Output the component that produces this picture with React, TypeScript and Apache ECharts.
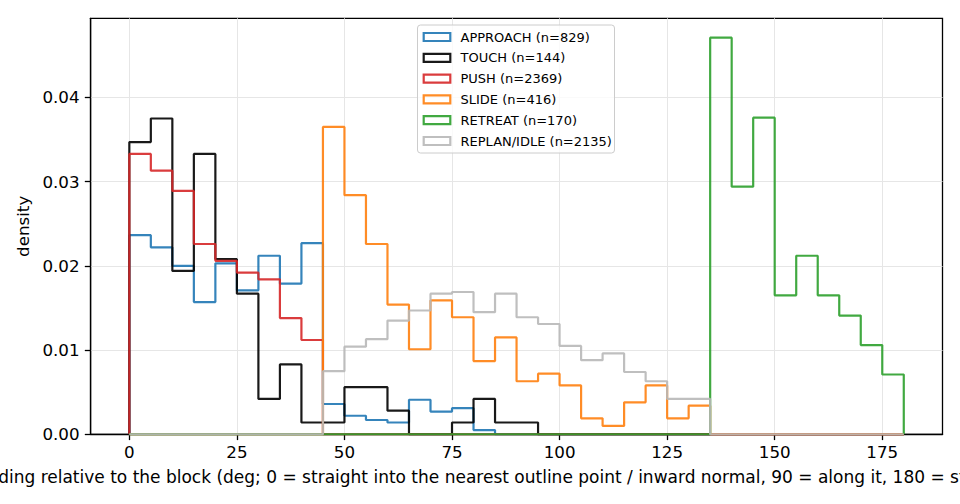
import React, { useEffect, useRef } from "react";
import * as echarts from "echarts";

// Histogram bins: 5-degree bins from 0 to 180 (36 bins)
const BIN_WIDTH = 5;
const BIN_COUNT = 36;
const X_TICKS = [0, 25, 50, 75, 100, 125, 150, 175];
const Y_TICKS = [0, 0.01, 0.02, 0.03, 0.04];

const SERIES_NAMES = ["APPROACH", "TOUCH", "PUSH", "SLIDE", "RETREAT", "REPLAN/IDLE"];
const SERIES_N = [829, 144, 2369, 416, 170, 2135];
const SERIES_COLORS = ["#1f77b4", "#000000", "#d62728", "#ff7f0e", "#2ca02c", "#b8b8b8"];

// density per bin
const APPROACH = [
  0.02365, 0.0222, 0.02, 0.0157, 0.0203, 0.0171, 0.0212, 0.0179, 0.0227, 0.0036,
  0.0022, 0.0017, 0.0014, 0.0041, 0.0027, 0.0031, 0.0005, 0, 0, 0,
  0, 0, 0, 0, 0, 0, 0, 0, 0, 0,
  0, 0, 0, 0, 0, 0,
];
const TOUCH = [
  0.0347, 0.0375, 0.0194, 0.0333, 0.0208, 0.0167, 0.0042, 0.0083, 0.0014, 0.0014,
  0.0056, 0.0056, 0.0028, 0, 0, 0.0014, 0.0042, 0.0014, 0.0014, 0,
  0, 0, 0, 0, 0, 0, 0, 0, 0, 0,
  0, 0, 0, 0, 0, 0,
];
const PUSH = [
  0.0333, 0.0313, 0.0289, 0.0226, 0.0206, 0.0192, 0.0184, 0.0138, 0.0112, 0,
  0, 0, 0, 0, 0, 0, 0, 0, 0, 0,
  0, 0, 0, 0, 0, 0, 0, 0, 0, 0,
  0, 0, 0, 0, 0, 0,
];
const SLIDE = [
  0, 0, 0, 0, 0, 0, 0, 0, 0, 0.0365,
  0.0284, 0.0226, 0.0154, 0.0101, 0.0159, 0.0139, 0.0087, 0.0115, 0.0063, 0.0072,
  0.0058, 0.0019, 0.001, 0.0038, 0.0058, 0.0019, 0.0034, 0, 0, 0,
  0, 0, 0, 0, 0, 0,
];
const RETREAT = [
  0, 0, 0, 0, 0, 0, 0, 0, 0, 0,
  0, 0, 0, 0, 0, 0, 0, 0, 0, 0,
  0, 0, 0, 0, 0, 0, 0, 0.0471, 0.0294, 0.0376,
  0.0165, 0.0212, 0.0165, 0.0141, 0.0106, 0.0071,
];
const REPLAN_IDLE = [
  0, 0, 0, 0, 0, 0, 0, 0, 0, 0.0075,
  0.0104, 0.0113, 0.0135, 0.0147, 0.0167, 0.0169, 0.0145, 0.0167, 0.0139, 0.0131,
  0.0105, 0.0088, 0.0096, 0.0074, 0.0063, 0.0042, 0.0042, 0, 0, 0,
  0, 0, 0, 0, 0, 0,
];
const SERIES_VALUES = [APPROACH, TOUCH, PUSH, SLIDE, RETREAT, REPLAN_IDLE];

const X_LABEL =
  "heading relative to the block (deg; 0 = straight into the nearest outline point / inward normal, 90 = along it, 180 = straight away)";

const FONT = "DejaVu Sans";

function stepPoints(values: number[]): number[][] {
  const pts: number[][] = [[0, 0]];
  for (let i = 0; i < BIN_COUNT; i++) {
    const lo = i * BIN_WIDTH;
    const hi = lo + BIN_WIDTH;
    pts.push([lo, values[i]], [hi, values[i]]);
  }
  pts.push([BIN_COUNT * BIN_WIDTH, 0]);
  return pts;
}

export default function App() {
  const ref = useRef<HTMLDivElement>(null);

  useEffect(() => {
    if (!ref.current) return;
    const chart = echarts.init(ref.current, undefined, { renderer: "svg" });

    const legendLeft = 417.5;
    const legendTop = 25;
    const rowH = 20.8;
    const legendChildren: any[] = [
      {
        type: "rect",
        shape: { x: legendLeft, y: legendTop, width: 197, height: 128, r: 3 },
        style: { fill: "rgba(255,255,255,0.8)", stroke: "#cccccc", lineWidth: 1 },
        z: 10,
      },
    ];
    SERIES_NAMES.forEach((name, i) => {
      const cy = 37 + i * rowH;
      legendChildren.push({
        type: "rect",
        shape: { x: 423.7, y: cy - 4, width: 26.6, height: 8 },
        style: { fill: "none", stroke: SERIES_COLORS[i], lineWidth: 2.2, opacity: 0.9 },
        z: 11,
      });
      legendChildren.push({
        type: "text",
        x: 460.5,
        y: cy,
        style: {
          text: `${name} (n=${SERIES_N[i]})`,
          fontFamily: FONT,
          fontSize: 13,
          fill: "#000",
          align: "left",
          verticalAlign: "middle",
        },
        z: 11,
      });
    });

    chart.setOption({
      animation: false,
      backgroundColor: "#ffffff",
      grid: {
        left: 90.6,
        right: 17.5,
        top: 18.3,
        bottom: 69.7,
        show: true,
        borderColor: "#000",
        borderWidth: 1.3,
        backgroundColor: "transparent",
      },
      xAxis: {
        type: "value",
        min: -9,
        max: 189,
        axisLine: { show: true, onZero: false, lineStyle: { color: "#000", width: 1.3 } },
        axisTick: {
          show: true,
          inside: false,
          length: 5.8,
          lineStyle: { color: "#000", width: 1.3 },
          customValues: X_TICKS,
        },
        axisLabel: {
          customValues: X_TICKS,
          fontFamily: FONT,
          fontSize: 16.7,
          color: "#000",
          margin: 9,
        },
        splitLine: { show: true, lineStyle: { color: "#e6e6e6", width: 1 } },
      },
      yAxis: {
        type: "value",
        min: 0,
        max: 0.0494,
        name: "density",
        nameLocation: "middle",
        nameGap: 56,
        nameTextStyle: { fontFamily: FONT, fontSize: 16.7, color: "#000" },
        axisLine: { show: true, onZero: false, lineStyle: { color: "#000", width: 1.3 } },
        axisTick: {
          show: true,
          inside: false,
          length: 5.8,
          lineStyle: { color: "#000", width: 1.3 },
          customValues: Y_TICKS,
        },
        axisLabel: {
          customValues: Y_TICKS,
          fontFamily: FONT,
          fontSize: 16.7,
          color: "#000",
          margin: 11,
          formatter: (v: number) => v.toFixed(2),
        },
        splitLine: { show: true, lineStyle: { color: "#e6e6e6", width: 1 } },
      },
      graphic: [
        ...legendChildren,
        {
          type: "text",
          x: -33.5,
          y: 477,
          style: {
            text: X_LABEL,
            fontFamily: FONT,
            fontSize: 17,
            fill: "#000",
            align: "left",
            verticalAlign: "middle",
          },
        },
      ],
      series: SERIES_VALUES.map((vals, i) => ({
        name: SERIES_NAMES[i],
        type: "line",
        data: stepPoints(vals),
        symbol: "none",
        showSymbol: false,
        silent: true,
        lineStyle: { color: SERIES_COLORS[i], width: 2.2, opacity: 0.9 },
        z: 2,
        zlevel: 0,
      })),
    });

    return () => chart.dispose();
  }, []);

  return (
    <div
      ref={ref}
      style={{ position: "absolute", left: 0, top: 0, width: 960, height: 504 }}
    />
  );
}
